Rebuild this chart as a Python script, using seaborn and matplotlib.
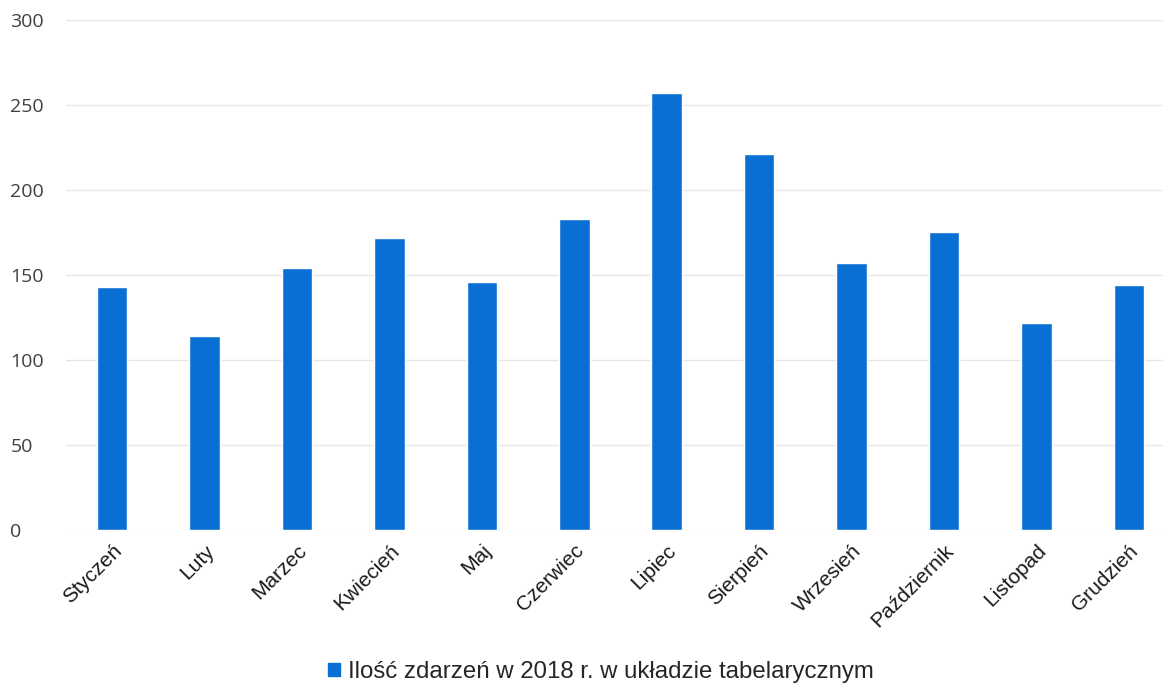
import matplotlib

matplotlib.use("Agg")
import matplotlib.pyplot as plt  # noqa: E402
import seaborn as sns  # noqa: E402
import pandas as pd  # noqa: E402

# Monthly event counts
MONTHS = ["Styczeń", "Luty", "Marzec", "Kwiecień", "Maj", "Czerwiec",
          "Lipiec", "Sierpień", "Wrzesień", "Październik", "Listopad", "Grudzień"]
EVENTS = [143, 114, 154, 172, 146, 183, 257, 221, 157, 175, 122, 144]
SERIES = "Ilość zdarzeń w 2018 r. w układzie tabelarycznym"
Y_TICKS = [0, 50, 100, 150, 200, 250, 300]

BAR_COLOR = "#0a6fd2"

sns.set_theme(style="white")
plt.rcParams["font.family"] = ["Liberation Sans", "DejaVu Sans"]

df = pd.DataFrame({"month": MONTHS, "events": EVENTS})

fig = plt.figure(figsize=(11.63, 6.87), dpi=100)
ax = fig.add_axes([66 / 1163, 157 / 687, 1097 / 1163, 510 / 687])

sns.barplot(data=df, x="month", y="events", color=BAR_COLOR, width=0.33,
            saturation=1, ax=ax, zorder=3)

ax.set_xlim(-0.5, 11.37)
ax.set_ylim(0, 300)
ax.set_yticks(Y_TICKS)
ax.yaxis.grid(True, color="#e6e6e6", linewidth=1, zorder=0)
ax.set_xlabel("")
ax.set_ylabel("")
for side in ["top", "right", "left", "bottom"]:
    ax.spines[side].set_visible(False)
ax.tick_params(axis="both", length=0)
ax.tick_params(axis="y", pad=40)
for lab in ax.get_yticklabels():
    lab.set_family(["Open Sans", "DejaVu Sans"])
    lab.set_fontsize(14)
    lab.set_color("#404040")
    lab.set_horizontalalignment("left")
plt.setp(ax.get_xticklabels(), rotation=45, ha="right", rotation_mode="anchor",
         fontsize=15, color="#1a1a1a")
ax.tick_params(axis="x", pad=8)

# single legend entry centred below the chart
handle = plt.Rectangle((0, 0), 1, 1, color=BAR_COLOR)
fig.legend(handles=[handle], labels=[SERIES], loc="center",
           bbox_to_anchor=(601 / 1163, 1 - 672 / 687), frameon=False,
           fontsize=17.3, handlelength=0.5, handleheight=0.5, handletextpad=0.3)

fig.savefig("out.png", dpi=100)
